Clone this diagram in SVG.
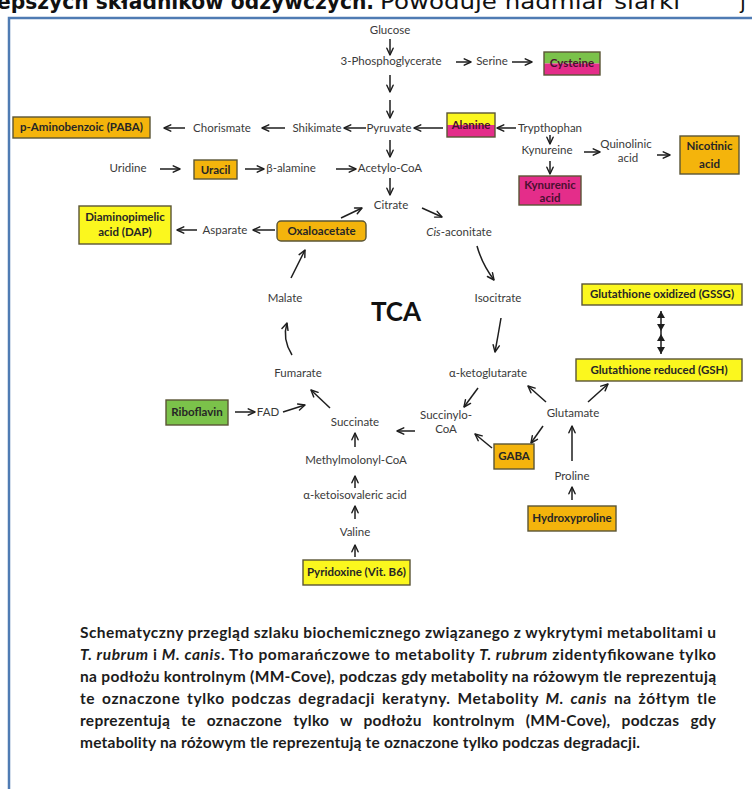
<svg xmlns="http://www.w3.org/2000/svg" width="752" height="789" viewBox="0 0 752 789">
<defs>
<marker id="ah" viewBox="0 0 10 10" refX="9" refY="5" markerWidth="9" markerHeight="9" markerUnits="userSpaceOnUse" orient="auto"><path d="M1.5,1.5 L9,5 L1.5,8.5" fill="none" stroke="#1e1e1e" stroke-width="1.6" stroke-linecap="round" stroke-linejoin="round"/></marker>
</defs>
<style>
.t{font-family:Lato,"Open Sans","Liberation Sans",sans-serif;font-size:11.5px;fill:#3a3a3a;text-anchor:middle}
.b{font-family:Lato,"Liberation Sans",sans-serif;font-size:11.5px;font-weight:bold;fill:#262626;text-anchor:middle}
.bp{fill:#4a1030}
.bx{stroke:#5b5535;stroke-width:1.4}
.ol{fill:none;stroke:#5b5535;stroke-width:1.4}
.or{fill:#f4b40c}
.ye{fill:#fbf71e}
.pk{fill:#e42d8a}
.gr{fill:#7bc24a}
.a{fill:none;stroke:#1e1e1e;stroke-width:1.5;marker-end:url(#ah)}
.cap{font-family:Lato,"Liberation Sans",sans-serif;font-size:15.5px;font-weight:bold;fill:#1c1c1c}
.hd{font-family:"DejaVu Sans",sans-serif;font-size:21px;fill:#111}
</style>
<rect width="752" height="789" fill="#fff"/>
<g id="header">
<text class="hd" x="-3" y="9" font-weight="bold" textLength="377" lengthAdjust="spacingAndGlyphs">epszych składników odżywczych.</text>
<text class="hd" x="380" y="9" textLength="300" lengthAdjust="spacingAndGlyphs">Powoduje nadmiar siarki</text>
<text class="hd" x="740" y="9">j</text>
</g>
<path id="frame" d="M9,789 V18 H752" fill="none" stroke="#4f7bb3" stroke-width="2.5"/>

<g id="connectors">
<path class="a" d="M390,39 V55"/>
<path class="a" d="M456,62 H471"/>
<path class="a" d="M512,62 H532"/>
<path class="a" d="M390,75 V92"/>
<path class="a" d="M390,100 V118"/>
<path class="a" d="M366,128 H344"/>
<path class="a" d="M285,128 H262"/>
<path class="a" d="M185,128 H164"/>
<path class="a" d="M443,128 H414"/>
<path class="a" d="M516,128 H497"/>
<path class="a" d="M550,135 V144"/>
<path class="a" d="M584,152 H600"/>
<path class="a" d="M657,155 H670"/>
<path class="a" d="M550,161 V174"/>
<path class="a" d="M390,140 V157"/>
<path class="a" d="M160,169 H180"/>
<path class="a" d="M245,169 H264"/>
<path class="a" d="M336,169 H356"/>
<path class="a" d="M390,178 V195"/>
<path class="a" d="M422,208 L442,217"/>
<path class="a" d="M341,218 L362,208"/>
<path class="a" d="M275,230 H253"/>
<path class="a" d="M197,230 H177"/>
<path class="a" d="M477,246 Q482,264 494,280"/>
<path class="a" d="M501,318 Q498,336 495,352"/>
<path class="a" d="M292,355 Q282,339 287,323"/>
<path class="a" d="M291,278 L305,250"/>
<path class="a" d="M478,388 L464,407"/>
<path class="a" d="M546,402 L528,386"/>
<path class="a" d="M588,402 L608,384"/>
<path class="a" d="M543,426 L531,443"/>
<path class="a" d="M492,448 L475,434"/>
<path class="a" d="M415,431 H397"/>
<path class="a" d="M330,408 L311,390"/>
<path class="a" d="M283,412 L305,405"/>
<path class="a" d="M235,412 H255"/>
<path class="a" d="M355,447 V433"/>
<path class="a" d="M355,488 V476"/>
<path class="a" d="M355,519 V506"/>
<path class="a" d="M355,557 V545"/>
<path class="a" d="M572,461 V426"/>
<path class="a" d="M572,500 V487"/>
<g id="gsh-gssg">
<path d="M661,311 V354" stroke="#1e1e1e" stroke-width="1.5"/>
<path d="M661,311 L657,318 H665 Z M661,331 L657,324 H665 Z M661,334 L657,341 H665 Z M661,354 L657,347 H665 Z" fill="#1e1e1e"/>
</g>
</g>

<g id="glucose"><text class="t" x="390" y="34">Glucose</text></g>
<g id="pg3"><text class="t" x="391" y="65">3-Phosphoglycerate</text></g>
<g id="serine"><text class="t" x="492" y="65">Serine</text></g>
<g id="cysteine"><rect class="gr" x="544" y="52" width="56" height="11.5"/><rect class="pk" x="544" y="63.5" width="56" height="11.5"/><rect class="ol" x="544" y="52" width="56" height="23"/><text class="b bp" x="572" y="67">Cysteine</text></g>
<g id="pyruvate"><text class="t" x="389" y="132">Pyruvate</text></g>
<g id="shikimate"><text class="t" x="317" y="132">Shikimate</text></g>
<g id="chorismate"><text class="t" x="222" y="132">Chorismate</text></g>
<g id="paba"><rect class="or bx" x="13" y="117" width="137" height="21"/><text class="b" x="81.5" y="131">p-Aminobenzoic (PABA)</text></g>
<g id="alanine"><rect class="ye" x="447" y="113" width="48" height="12"/><rect class="pk" x="447" y="125" width="48" height="12"/><rect class="ol" x="447" y="113" width="48" height="24"/><text class="b bp" x="471" y="129">Alanine</text></g>
<g id="tryptophan"><text class="t" x="550" y="132">Trypthophan</text></g>
<g id="kynureine"><text class="t" x="547" y="154">Kynureine</text></g>
<g id="quinolinic"><text class="t" x="626" y="148">Quinolinic</text><text class="t" x="628" y="162">acid</text></g>
<g id="nicotinic"><rect class="or bx" x="680" y="136" width="59" height="38"/><text class="b" x="709.5" y="150">Nicotinic</text><text class="b" x="709.5" y="168">acid</text></g>
<g id="kynurenic"><rect class="pk bx" x="519" y="176" width="62" height="29"/><text class="b bp" x="550" y="189">Kynurenic</text><text class="b bp" x="550" y="202">acid</text></g>
<g id="uridine"><text class="t" x="128" y="172">Uridine</text></g>
<g id="uracil"><rect class="or bx" x="194" y="160" width="43" height="19"/><text class="b" x="215.5" y="174">Uracil</text></g>
<g id="balamine"><text class="t" x="291" y="172">β-alamine</text></g>
<g id="acetylcoa"><text class="t" x="390" y="172">Acetylo-CoA</text></g>
<g id="citrate"><text class="t" x="391" y="209">Citrate</text></g>
<g id="cisaconitate"><text class="t" x="459" y="236"><tspan font-style="italic">Cis</tspan>-aconitate</text></g>
<g id="oxaloacetate"><rect class="or bx" x="277" y="221" width="89" height="20" rx="4"/><text class="b" x="321.5" y="235">Oxaloacetate</text></g>
<g id="asparate"><text class="t" x="225" y="234">Asparate</text></g>
<g id="dap"><rect class="ye bx" x="79" y="206" width="92" height="38"/><text class="b" x="125" y="221">Diaminopimelic</text><text class="b" x="125" y="236">acid (DAP)</text></g>
<g id="malate"><text class="t" x="285" y="302">Malate</text></g>
<g id="isocitrate"><text class="t" x="498" y="302">Isocitrate</text></g>
<g id="tca"><text x="396" y="321" text-anchor="middle" font-family="Lato,'Liberation Sans',sans-serif" font-weight="bold" font-size="26" fill="#111">TCA</text></g>
<g id="gssg"><rect class="ye bx" x="582" y="284" width="160" height="21"/><text class="b" x="662" y="298">Glutathione oxidized (GSSG)</text></g>
<g id="gsh"><rect class="ye bx" x="576" y="359" width="166" height="22"/><text class="b" x="659" y="374">Glutathione reduced (GSH)</text></g>
<g id="fumarate"><text class="t" x="298" y="377">Fumarate</text></g>
<g id="aketoglutarate"><text class="t" x="488" y="377">α-ketoglutarate</text></g>
<g id="riboflavin"><rect class="gr bx" x="166" y="400" width="62" height="25"/><text class="b" x="197" y="416">Riboflavin</text></g>
<g id="fad"><text class="t" x="268" y="416">FAD</text></g>
<g id="succinate"><text class="t" x="355" y="426">Succinate</text></g>
<g id="succinylcoa"><text class="t" x="446" y="419">Succinylo-</text><text class="t" x="446" y="433">CoA</text></g>
<g id="glutamate"><text class="t" x="573" y="417">Glutamate</text></g>
<g id="gaba"><rect class="or bx" x="494" y="444" width="40" height="25"/><text class="b" x="514" y="460">GABA</text></g>
<g id="proline"><text class="t" x="572" y="480">Proline</text></g>
<g id="hydroxyproline"><rect class="or bx" x="528" y="506" width="88" height="25"/><text class="b" x="572" y="522">Hydroxyproline</text></g>
<g id="methylmalonylcoa"><text class="t" x="356" y="464">Methylmolonyl-CoA</text></g>
<g id="aketoisovaleric"><text class="t" x="355" y="499">α-ketoisovaleric acid</text></g>
<g id="valine"><text class="t" x="355" y="536">Valine</text></g>
<g id="pyridoxine"><rect class="ye bx" x="303" y="560" width="107" height="25"/><text class="b" x="356.5" y="576">Pyridoxine (Vit. B6)</text></g>

<g id="caption">
<text class="cap" x="80" y="638" textLength="636" lengthAdjust="spacing">Schematyczny przegląd szlaku biochemicznego związanego z wykrytymi metabolitami u</text>
<text class="cap" x="80" y="660" textLength="636" lengthAdjust="spacing"><tspan font-style="italic">T. rubrum</tspan> i <tspan font-style="italic">M. canis</tspan>. Tło pomarańczowe to metabolity <tspan font-style="italic">T. rubrum</tspan> zidentyfikowane tylko</text>
<text class="cap" x="80" y="682" textLength="636" lengthAdjust="spacing">na podłożu kontrolnym (MM-Cove), podczas gdy metabolity na różowym tle reprezentują</text>
<text class="cap" x="80" y="704" word-spacing="2.5" textLength="636" lengthAdjust="spacing">te oznaczone tylko podczas degradacji keratyny. Metabolity <tspan font-style="italic">M. canis</tspan> na żółtym tle</text>
<text class="cap" x="80" y="726" word-spacing="7" textLength="636" lengthAdjust="spacing">reprezentują te oznaczone tylko w podłożu kontrolnym (MM-Cove), podczas gdy</text>
<text class="cap" x="80" y="748" textLength="560" lengthAdjust="spacing">metabolity na różowym tle reprezentują te oznaczone tylko podczas degradacji.</text>
</g>
</svg>
